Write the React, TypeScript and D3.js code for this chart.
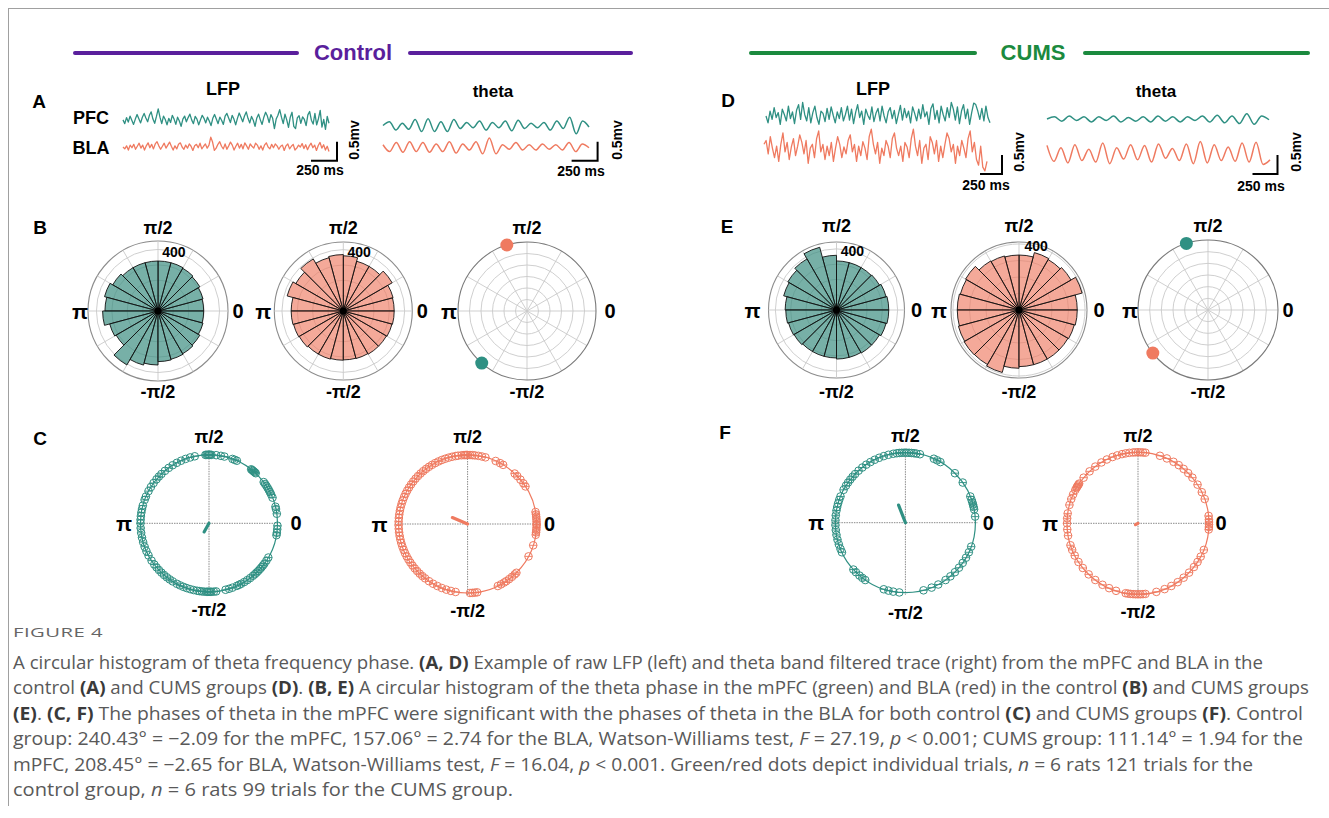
import React from "react";
import * as d3 from "d3";

const W = 1329;
const H = 818;
const FONT = "'Liberation Sans', Arial, Helvetica, sans-serif";
const CAP_FONT = "'Open Sans', 'Liberation Sans', sans-serif";
const GREEN = "#2f9083";
const RED = "#ef7a60";
const PURPLE = "#5a1f9c";
const DKGREEN = "#1b8a3e";

// ---------- Panel A / D traces (units: 0.01 mV) ----------
const A_PFC_LFP = [3,-7,9,-3,13,2,-9,5,17,6,-5,10,20,8,-2,15,24,5,-6,12,32,10,-7,13,4,-10,7,-4,15,5,-9,10,0,-14,5,13,-2,9,18,3,-7,12,5,-10,3,15,7,-5,10,0,-12,7,17,5,-7,10,2,-9,13,20,8,-4,15,5,-10,7,21,10,-2,13,24,7,-5,12,2,-14,8,18,3,-9,10,23,13,-4,17,7,-20,5,15,30,10,-7,18,3,-17,10,23,-14,-20,8,14,-6,11,4,-12,16,25,2,-8,20,-10,6,28,-16,4,-22,12,-6];
const A_BLA_LFP = [0,-5,3,-8,5,-2,7,-6,2,10,-3,5,-8,3,11,-2,7,-5,8,14,3,-6,2,10,-3,5,13,2,-8,3,-5,7,11,0,-6,5,-3,8,2,-9,3,7,-2,10,-5,2,8,-3,5,26,13,-9,-3,7,14,2,-5,8,-6,3,13,5,-8,2,10,-3,7,-5,11,3,-6,8,2,-3,10,5,-6,3,-8,5,11,0,-5,7,-2,8,3,-6,2,5,-9,3,8,-5,2,7,-8,-3,5,0,9,-4,6,-7,3,10,-2,5,-9,4,12,-3,6,-8,2,-12];
const A_PFC_THETA = [0,10,-12,6,-10,16,-16,18,-16,10,-16,16,-8,8,-6,12,-12,8,-6,12,-14,14,-8,6,-6,8,-12,12,-8,22,-22,12,-4];
const A_BLA_THETA = [6,-12,12,-14,14,-12,12,-14,8,-12,14,-16,8,-8,14,-18,24,-18,6,-6,12,-8,6,-8,8,-6,6,-8,12,-12,8,-2];
const D_PFC_LFP = [0,-18,13,-9,22,-4,9,-22,18,4,-13,26,-7,11,-20,15,30,-9,36,4,-13,22,-18,9,26,-4,-22,13,7,-15,20,-9,24,2,-18,11,-7,22,-13,4,26,-11,18,-20,9,30,-4,13,-22,18,2,-9,24,-15,7,20,-13,26,0,-18,11,22,-7,15,-20,4,28,-11,20,-4,13,-18,24,7,-13,18,-7,30,-2,11,-22,20,32,-9,15,-18,26,4,-13,22,-4,36,18,-11,24,-20,13,30,-7,18,-22,9,34,30,13,-9,20,-13,26,-4,-18];
const D_BLA_LFP = [15,25,-10,35,5,-20,10,-30,15,45,-5,20,-25,8,30,-15,10,40,20,-10,25,-35,5,15,-20,30,50,-5,15,-25,10,-15,20,-30,5,35,15,-20,8,-10,25,40,-5,15,-30,10,-15,22,5,-25,35,55,15,-10,20,-35,5,-15,25,10,-20,30,45,5,-15,10,-30,20,8,-20,30,55,10,-15,25,-35,5,15,-25,35,20,-10,25,-30,10,-20,15,45,30,-5,15,-35,10,-15,25,5,-20,30,50,-5,20,-25,-40,10,-45,-55,-30];
const D_PFC_THETA = [0,6,-6,8,-4,6,-8,6,-4,8,-8,4,-6,6,-8,8,-6,6,-8,6,-4,8,-8,10,-10,8,-12,14,-14,8,-2];
const D_BLA_THETA = [20,-22,14,-26,22,-20,10,-24,26,-28,14,-16,22,-18,20,-24,24,-14,12,-20,24,-28,30,-26,22,-20,16,-22,26,-24,28,-30,-18];

// ---------- Panel B / E circular histograms (24 bins of 15°, counts) ----------
const B_PFC_HIST = [297,303,314,321,325,325,325,325,325,340,360,345,360,325,314,405,364,351,329,325,321,314,303,297];
const B_BLA_HIST = [332,336,368,336,336,360,368,360,392,358,379,340,340,336,332,325,325,321,319,321,325,325,329,332];
const E_PFC_HIST = [342,336,325,321,321,321,358,425,386,368,358,336,332,325,321,314,314,314,321,321,325,325,336,342];
const E_BLA_HIST = [353,396,364,353,360,333,333,339,343,374,368,374,374,380,384,382,392,353,343,343,343,343,347,353];
const RING_TICKS = [100, 200, 300, 400];

// ---------- mean phase dots (degrees) ----------
const B_MEAN_PFC = 229;
const B_MEAN_BLA = 107;
const E_MEAN_PFC = 108;
const E_MEAN_BLA = 218;

// ---------- Panel C / F individual trial phases (degrees) ----------
const C_PFC_PHASES = [88,89,90,90,91,92,93,84,80,77,70,68,66,52,51,50,49,48,47,37,35,33,31,29,27,25,22,14,12,8,-2,-5,-8,-10,-30,-33,-36,-38,-40,-42,-44,-46,-48,-50,-53,-56,-59,-62,-64,-66,-70,-73,-76,-84,-86,-88,-89,-90,-91,-92,-94,-96,-98,-100,-103,-106,-109,-112,-115,-118,-122,-125,-128,-131,-134,-137,-140,-143,-147,-152,-156,-160,-164,-168,-172,-176,180,177,174,171,168,165,160,157,152,148,144,140,137,134,130,126,122,118,114,110,106,102];
const C_BLA_PHASES = [95,93,92,91,90,88,86,84,81,78,75,66,62,59,47,44,40,36,33,10,8,6,4,2,0,-1,-3,-5,-7,-9,-18,-28,-45,-47,-50,-53,-56,-58,-61,-64,-82,-84,-86,-88,-100,-104,-108,-112,-116,-120,-124,-128,-131,-134,-137,-140,-143,-146,-149,-152,-155,-158,-161,-164,-167,-170,-173,-176,-179,178,175,172,169,166,163,160,157,154,151,148,145,142,139,136,133,130,127,124,121,118,115,112,109,106,103,100,98];
const F_PFC_PHASES = [100,97,95,93,91,89,87,85,83,81,78,66,63,60,45,35,22,19,17,15,13,11,5,-20,-25,-30,-35,-40,-45,-50,-55,-62,-68,-75,-95,-100,-104,-108,-125,-128,-131,-135,-138,-155,-158,-162,-166,-170,-174,-178,178,174,170,167,164,161,158,152,148,145,142,139,136,132,128,124,120,116,112,108,104];
const F_BLA_PHASES = [100,97,94,92,90,88,86,84,72,66,60,55,50,45,40,33,26,20,6,3,1,-1,-3,-5,-22,-28,-33,-38,-44,-50,-56,-62,-68,-75,-84,-86,-88,-90,-92,-94,-96,-98,-100,-108,-114,-120,-127,-134,-141,-147,-153,-158,-162,-170,-175,180,176,172,165,160,156,152,150,149,148,147,146,140,133,127,121,116,111,107,103];
// mean vectors: angle (deg), resultant length (fraction of radius)
const C_MEAN = [240.43, 0.145, 157.06, 0.24];
const F_MEAN = [111.14, 0.27, 208.45, 0.04];

// ---------- caption ----------
type Seg = [string, string?];
const CAPTION: Seg[][] = [
  [["A circular histogram of theta frequency phase. "], ["(A, D)", "b"], [" Example of raw LFP (left) and theta band filtered trace (right) from the mPFC and BLA in the"]],
  [["control "], ["(A)", "b"], [" and CUMS groups "], ["(D)", "b"], [". "], ["(B, E)", "b"], [" A circular histogram of the theta phase in the mPFC (green) and BLA (red) in the control "], ["(B)", "b"], [" and CUMS groups"]],
  [["(E)", "b"], [". "], ["(C, F)", "b"], [" The phases of theta in the mPFC were significant with the phases of theta in the BLA for both control "], ["(C)", "b"], [" and CUMS groups "], ["(F)", "b"], [". Control"]],
  [["group: 240.43° = −2.09 for the mPFC, 157.06° = 2.74 for the BLA, Watson-Williams test, "], ["F", "i"], [" = 27.19, "], ["p", "i"], [" < 0.001; CUMS group: 111.14° = 1.94 for the"]],
  [["mPFC, 208.45° = −2.65 for BLA, Watson-Williams test, "], ["F", "i"], [" = 16.04, "], ["p", "i"], [" < 0.001. Green/red dots depict individual trials, "], ["n", "i"], [" = 6 rats 121 trials for the"]],
  [["control group, "], ["n", "i"], [" = 6 rats 99 trials for the CUMS group."]],
];
const CAPTION_WIDTHS = [1250, 1296, 1290, 1290, 1240, 500];

const rad = (deg: number) => (deg * Math.PI) / 180;

function Trace({ values, x0, x1, cy, color, smooth }: any) {
  const x = d3.scaleLinear().domain([0, values.length - 1]).range([x0, x1]);
  const y = d3.scaleLinear().domain([-50, 50]).range([cy + 19, cy - 19]);
  const line = d3
    .line<number>()
    .x((_, i) => x(i))
    .y((d) => y(d))
    .curve(smooth ? d3.curveMonotoneX : d3.curveLinear);
  return <path d={line(values) || ""} fill="none" stroke={color} strokeWidth={smooth ? 1.5 : 1.3} strokeLinejoin="round" />;
}

function ScaleBar({ x, yb, w, tx, ty, mx, my }: any) {
  const y = d3.scaleLinear().domain([0, 50]).range([0, 19]);
  return (
    <g>
      <path d={`M${x - w},${yb}H${x}V${yb - y(50)}`} fill="none" stroke="#000" strokeWidth={2} />
      <text x={tx} y={ty} textAnchor="middle" dominantBaseline="central" fontSize={14} fontWeight="bold">250 ms</text>
      <text transform={`translate(${mx},${my}) rotate(-90)`} textAnchor="middle" dominantBaseline="central" fontSize={14} fontWeight="bold">0.5mv</text>
    </g>
  );
}

function AxisLabels({ cx, cy, top, bottom, left, right }: any) {
  return (
    <g fontWeight="bold" textAnchor="middle" dominantBaseline="central">
      <text x={cx} y={cy - top} fontSize={18}>π/2</text>
      <text x={cx} y={cy + bottom} fontSize={18}>-π/2</text>
      <text x={cx - left} y={cy} fontSize={21}>π</text>
      <text x={cx + right} y={cy} fontSize={20}>0</text>
    </g>
  );
}

function PolarHist({ cx, cy, R, rmax, values, color, opacity }: any) {
  const r = d3.scaleLinear().domain([0, rmax]).range([0, R]);
  const arc = d3.arc<any>();
  const spokes = d3.range(0, 360, 30);
  const bin = 360 / values.length;
  const lr = r(400);
  return (
    <g transform={`translate(${cx},${cy})`}>
      {RING_TICKS.map((v) => (
        <circle key={v} r={r(v)} fill="none" stroke="#c9c9c9" strokeWidth={0.9} />
      ))}
      <circle r={R} fill="none" stroke="#8c8c8c" strokeWidth={1.1} />
      {spokes.map((a) => (
        <line key={a} x1={0} y1={0} x2={R * Math.cos(rad(a))} y2={-R * Math.sin(rad(a))} stroke="#c9c9c9" strokeWidth={0.9} />
      ))}
      {values.map((v: number, i: number) => {
        const t0 = rad(i * bin);
        const t1 = rad((i + 1) * bin);
        const d = arc({ innerRadius: 0, outerRadius: r(v), startAngle: Math.PI / 2 - t1, endAngle: Math.PI / 2 - t0 });
        return <path key={i} d={d || ""} fill={color} fillOpacity={opacity} stroke="#111" strokeWidth={0.9} />;
      })}
      <circle r={3.5} fill="#000" />
      <text x={lr * Math.cos(rad(75))} y={-lr * Math.sin(rad(75))} textAnchor="middle" dominantBaseline="central" fontSize={14} fontWeight="bold">400</text>
    </g>
  );
}

function PolarMean({ cx, cy, R, dots }: any) {
  const rings = d3.range(1, 6).map((k) => (R * k) / 6);
  const spokes = d3.range(0, 360, 30);
  return (
    <g transform={`translate(${cx},${cy})`}>
      {rings.map((rr) => (
        <circle key={rr} r={rr} fill="none" stroke="#c9c9c9" strokeWidth={0.9} />
      ))}
      {spokes.map((a) => (
        <line key={a} x1={0} y1={0} x2={R * Math.cos(rad(a))} y2={-R * Math.sin(rad(a))} stroke="#c9c9c9" strokeWidth={0.9} />
      ))}
      <circle r={R} fill="none" stroke="#7a7a7a" strokeWidth={1.1} />
      {dots.map(([a, c]: any, i: number) => (
        <circle key={i} cx={R * Math.cos(rad(a))} cy={-R * Math.sin(rad(a))} r={6.5} fill={c} />
      ))}
    </g>
  );
}

function PhaseCircle({ cx, cy, R, phases, color, meanAngle, meanLen }: any) {
  const pts = phases.map((a: number) => [R * Math.cos(rad(a)), -R * Math.sin(rad(a))]);
  const mx = R * meanLen * Math.cos(rad(meanAngle));
  const my = -R * meanLen * Math.sin(rad(meanAngle));
  return (
    <g transform={`translate(${cx},${cy})`}>
      <line x1={-R - 4} y1={0} x2={R + 2} y2={0} stroke="#8a8a8a" strokeWidth={1} strokeDasharray="1.5,1" />
      <line x1={0} y1={-R - 4} x2={0} y2={R + 2} stroke="#8a8a8a" strokeWidth={1} strokeDasharray="1.5,1" />
      <circle r={R} fill="none" stroke={color} strokeWidth={1.2} />
      {pts.map(([x, y]: number[], i: number) => (
        <g key={i} transform={`translate(${x},${y})`}>
          <circle r={3.8} fill="none" stroke={color} strokeWidth={1} />
          <line x1={-3.8} x2={3.8} y1={0} y2={0} stroke={color} strokeWidth={0.9} />
        </g>
      ))}
      <line x1={0} y1={0} x2={mx} y2={my} stroke={color} strokeWidth={3.2} strokeLinecap="round" />
    </g>
  );
}

function Header({ text, color, x0, x1, x2, x3, tx }: any) {
  return (
    <g>
      <line x1={x0} x2={x1} y1={53} y2={53} stroke={color} strokeWidth={4} strokeLinecap="round" />
      <line x1={x2} x2={x3} y1={53} y2={53} stroke={color} strokeWidth={4} strokeLinecap="round" />
      <text x={tx} y={52} textAnchor="middle" dominantBaseline="central" fontSize={22} fontWeight="bold" fill={color}>{text}</text>
    </g>
  );
}

export default function App() {
  return (
    <svg width={W} height={H} style={{ position: "absolute", left: 0, top: 0 }} fontFamily={FONT}>
      <rect width={W} height={H} fill="#fff" />
      <line x1={8} y1={8.5} x2={W} y2={8.5} stroke="#a0a0a0" strokeWidth={1} />
      <line x1={8.5} y1={8} x2={8.5} y2={806} stroke="#a0a0a0" strokeWidth={1} />

      <Header text="Control" color={PURPLE} x0={75} x1={297} x2={410} x3={631} tx={353} />
      <Header text="CUMS" color={DKGREEN} x0={751} x1={975} x2={1085} x3={1308} tx={1033} />

      {/* panel letters */}
      <g fontWeight="bold" fontSize={19} textAnchor="middle" dominantBaseline="central">
        <text x={39} y={101}>A</text>
        <text x={40} y={227}>B</text>
        <text x={40} y={438}>C</text>
        <text x={728} y={100}>D</text>
        <text x={727} y={226}>E</text>
        <text x={725} y={432}>F</text>
      </g>

      {/* Panel A / D headers */}
      <g fontWeight="bold" fontSize={18} textAnchor="middle" dominantBaseline="central">
        <text x={223} y={89}>LFP</text>
        <text x={493} y={91} fontSize={17}>theta</text>
        <text x={91} y={118}>PFC</text>
        <text x={91} y={148}>BLA</text>
        <text x={873} y={89}>LFP</text>
        <text x={1156} y={91} fontSize={17}>theta</text>
      </g>
      <Trace values={A_PFC_LFP} x0={123} x1={329} cy={121} color={GREEN} />
      <Trace values={A_BLA_LFP} x0={123} x1={329} cy={147} color={RED} />
      <Trace values={A_PFC_THETA} x0={383} x1={589} cy={125.5} color={GREEN} smooth />
      <Trace values={A_BLA_THETA} x0={383} x1={589} cy={147} color={RED} smooth />
      <ScaleBar x={337} yb={160.7} w={26} tx={320} ty={170} mx={353.5} my={140} />
      <ScaleBar x={597.6} yb={160.7} w={26} tx={581} ty={171} mx={616.6} my={140} />

      {/* Panel D */}
      <Trace values={D_PFC_LFP} x0={766} x1={990} cy={116} color={GREEN} />
      <Trace values={D_BLA_LFP} x0={764} x1={987} cy={150} color={RED} />
      <Trace values={D_PFC_THETA} x0={1047} x1={1269} cy={119} color={GREEN} smooth />
      <Trace values={D_BLA_THETA} x0={1047} x1={1270} cy={153} color={RED} smooth />
      <ScaleBar x={1002} yb={174} w={22} tx={986} ty={185} mx={1019} my={152} />
      <ScaleBar x={1277.5} yb={174} w={25} tx={1261} ty={186} mx={1295.7} my={152} />

      {/* Panel B */}
      <PolarHist cx={158} cy={311} R={70} rmax={455} values={B_PFC_HIST} color="#3d8f82" opacity={0.7} />
      <AxisLabels cx={158} cy={311} top={83} bottom={81} left={78} right={80} />
      <PolarHist cx={343.3} cy={311} R={69} rmax={450} values={B_BLA_HIST} color="#ee7b62" opacity={0.65} />
      <AxisLabels cx={343.3} cy={311} top={83} bottom={81} left={80} right={79} />
      <PolarMean cx={527} cy={311} R={69} dots={[[B_MEAN_BLA, RED], [B_MEAN_PFC, GREEN]]} />
      <AxisLabels cx={527} cy={311} top={83} bottom={81} left={78} right={83} />

      {/* Panel E */}
      <PolarHist cx={836.5} cy={310} R={68} rmax={445} values={E_PFC_HIST} color="#3d8f82" opacity={0.7} />
      <AxisLabels cx={836.5} cy={310} top={84} bottom={82} left={84} right={80} />
      <PolarHist cx={1019} cy={310} R={68} rmax={412} values={E_BLA_HIST} color="#ee7b62" opacity={0.65} />
      <AxisLabels cx={1019} cy={310} top={84} bottom={82} left={80} right={80} />
      <PolarMean cx={1208} cy={310} R={70} dots={[[E_MEAN_PFC, GREEN], [E_MEAN_BLA, RED]]} />
      <AxisLabels cx={1208} cy={310} top={84} bottom={82} left={78} right={80} />

      {/* Panel C */}
      <PhaseCircle cx={209} cy={523.3} R={68.5} phases={C_PFC_PHASES} color={GREEN} meanAngle={C_MEAN[0]} meanLen={C_MEAN[1]} />
      <AxisLabels cx={209} cy={523.3} top={86} bottom={87} left={85} right={87} />
      <PhaseCircle cx={467.6} cy={524} R={69} phases={C_BLA_PHASES} color={RED} meanAngle={C_MEAN[2]} meanLen={C_MEAN[3]} />
      <AxisLabels cx={467.6} cy={524} top={87} bottom={87} left={88} right={82} />

      {/* Panel F */}
      <PhaseCircle cx={905.4} cy={522.7} R={70} phases={F_PFC_PHASES} color={GREEN} meanAngle={F_MEAN[0]} meanLen={F_MEAN[1]} />
      <AxisLabels cx={905.4} cy={522.7} top={87} bottom={90} left={89} right={83} />
      <PhaseCircle cx={1138} cy={523.3} R={71} phases={F_BLA_PHASES} color={RED} meanAngle={F_MEAN[2]} meanLen={F_MEAN[3]} />
      <AxisLabels cx={1138} cy={523.3} top={87} bottom={89} left={88} right={83} />

      {/* caption */}
      <text x={13} y={637} fontFamily={CAP_FONT} fontSize={12.5} fill="#666" letterSpacing={0.3} textLength={90} lengthAdjust="spacingAndGlyphs">FIGURE 4</text>
      {CAPTION.map((line, li) => (
        <text key={li} x={13} y={669 + li * 25.4} fontFamily={CAP_FONT} fontSize={17.5} fill="#595959" textLength={CAPTION_WIDTHS[li]} lengthAdjust="spacingAndGlyphs">
          {line.map(([t, s], si) => (
            <tspan key={si} fontWeight={s === "b" ? "bold" : "normal"} fontStyle={s === "i" ? "italic" : "normal"} fill={s === "b" ? "#3a3a3a" : "#595959"}>{t}</tspan>
          ))}
        </text>
      ))}
    </svg>
  );
}
